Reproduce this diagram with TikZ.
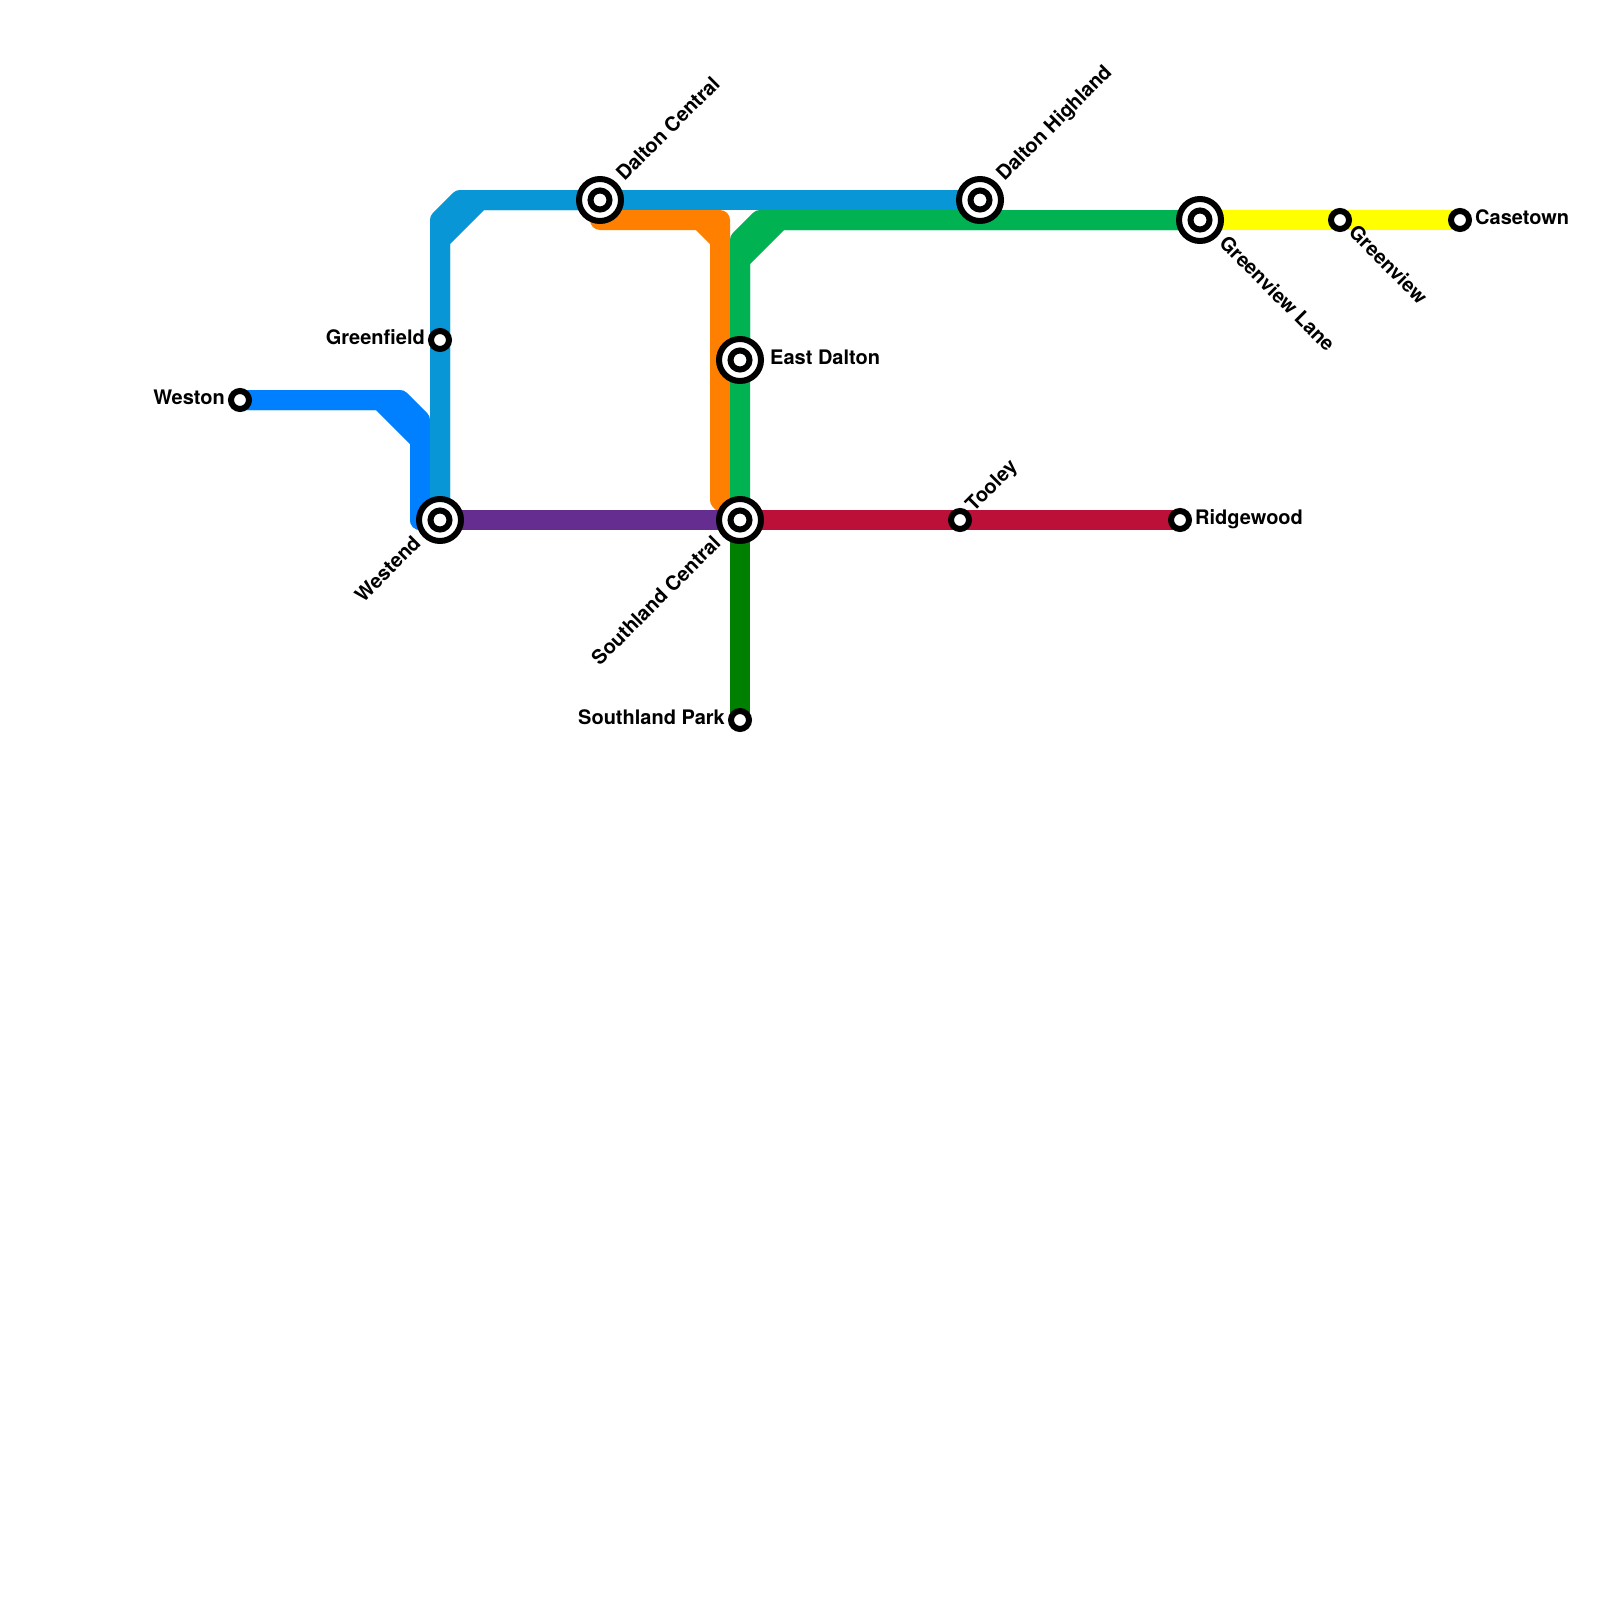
\documentclass[tikz,border=0pt]{standalone}
\usepackage{fontspec}
\setmainfont{TeX Gyre Heros}
\usepackage{tikz}
\usetikzlibrary{
    backgrounds,
}
\definecolor{lineblue}{HTML}{0080FF}
\definecolor{linecyan}{HTML}{0896D7}
\definecolor{lineorange}{HTML}{FF8000}
\definecolor{linegreen}{HTML}{00B251}
\definecolor{linedark}{HTML}{008000}
\definecolor{linepurple}{HTML}{662D91}
\definecolor{linered}{HTML}{BD1038}
\definecolor{lineyellow}{HTML}{FFFF00}
\tikzset{
    metro/.style={line width=20pt,line join=round},
    halt/.style={circle,draw=black,fill=white,line width=6pt,inner sep=0pt,outer sep=0pt,minimum size=18pt},
    interchange/.style={circle,draw=black,fill=white,line width=6pt,inner sep=0pt,outer sep=0pt,minimum size=42pt,
        path picture={\draw[line width=6pt] (path picture bounding box.center) circle (9.5pt);}},
    haltname/.style={font=\fontsize{20}{24}\selectfont\bfseries,inner sep=0pt,text=black,yshift=-4.5pt},
    nameafter/.style={haltname,anchor=base west,xshift=#1},
    namebefore/.style={haltname,anchor=base east,xshift=-#1},
}
\begin{document}
\begin{tikzpicture}[x=1pt,y=-1pt]
    \useasboundingbox (0,0) rectangle (1600,1600);
    %
    % Stazioni
    \node[halt] (weston) at (240,400) {};
    \node[halt] (greenfield) at (440,340) {};
    \node[interchange] (westend) at (440,520) {};
    \node[interchange] (daltonC) at (600,200) {};
    \node[interchange] (daltonE) at (740,360) {};
    \node[interchange] (southC) at (740,520) {};
    \node[halt] (southP) at (740,720) {};
    \node[halt] (tooley) at (960,520) {};
    \node[halt] (ridgewood) at (1180,520) {};
    \node[interchange] (daltonH) at (980,200) {};
    \node[interchange] (greenL) at (1200,220) {};
    \node[halt] (greenview) at (1340,220) {};
    \node[halt] (casetown) at (1460,220) {};
    %
    % Linee
    \begin{scope}[on background layer]
        \draw[metro,lineblue] (weston.center) -- (400,400) -- (420,420) -- (420,520) -- (westend.center);
        \draw[metro,lineblue] (weston.center) -- (380,400) -- (420,440) -- (420,520) -- (westend.center);
        %
        \draw[metro,linecyan] (westend.center) -- (440,220) -- (460,200) -- (daltonC.center);
        \draw[metro,linecyan] (westend.center) -- (440,240) -- (480,200) -- (daltonC.center);
        \draw[metro,linecyan] (daltonC.center) -- (daltonH.center);
        %
        \draw[metro,lineorange,line cap=round] (600,220) -- (720,220) -- (720,500) -- (southC.center);
        \draw[metro,lineorange] (700,220) -- (720,240);
        %
        \draw[metro,linegreen] (southC.center) -- (daltonE.center) -- (740,240) -- (760,220) -- (greenL.center);
        \draw[metro,linegreen] (daltonE.center) -- (740,260) -- (780,220) -- (greenL.center);
        %
        \draw[metro,linedark] (southC.center) -- (southP.center);
        \draw[metro,linepurple] (westend.center) -- (southC.center);
        \draw[metro,linered] (southC.center) -- (tooley.center) -- (ridgewood.center);
        \draw[metro,lineyellow] (greenL.center) -- (greenview.center) -- (casetown.center);
    \end{scope}
    %
    % Nomi
    \node[namebefore=15pt] (westonT) at (weston.center) {Weston};
    \node[namebefore=15pt] (greenfieldT) at (greenfield.center) {Greenfield};
    \node[namebefore=15pt] (southPT) at (southP.center) {Southland Park};
    \node[nameafter=15pt] (ridgewoodT) at (ridgewood.center) {Ridgewood};
    \node[nameafter=15pt] (casetownT) at (casetown.center) {Casetown};
    \node[nameafter=30pt] (daltonET) at (daltonE.center) {East Dalton};
    %
    \node[rotate=45,nameafter=30pt] (daltonCT) at (daltonC.center) {Dalton Central};
    \node[rotate=45,nameafter=30pt] (daltonHT) at (daltonH.center) {Dalton Highland};
    \node[rotate=45,nameafter=15pt] (tooleyT) at (tooley.center) {Tooley};
    \node[rotate=45,namebefore=30pt] (westendT) at (westend.center) {Westend};
    \node[rotate=45,namebefore=30pt] (southCT) at (southC.center) {Southland Central};
    \node[rotate=-45,nameafter=30pt] (greenLT) at (greenL.center) {Greenview Lane};
    \node[rotate=-45,nameafter=15pt] (greenviewT) at (greenview.center) {Greenview};
\end{tikzpicture}
\end{document}
